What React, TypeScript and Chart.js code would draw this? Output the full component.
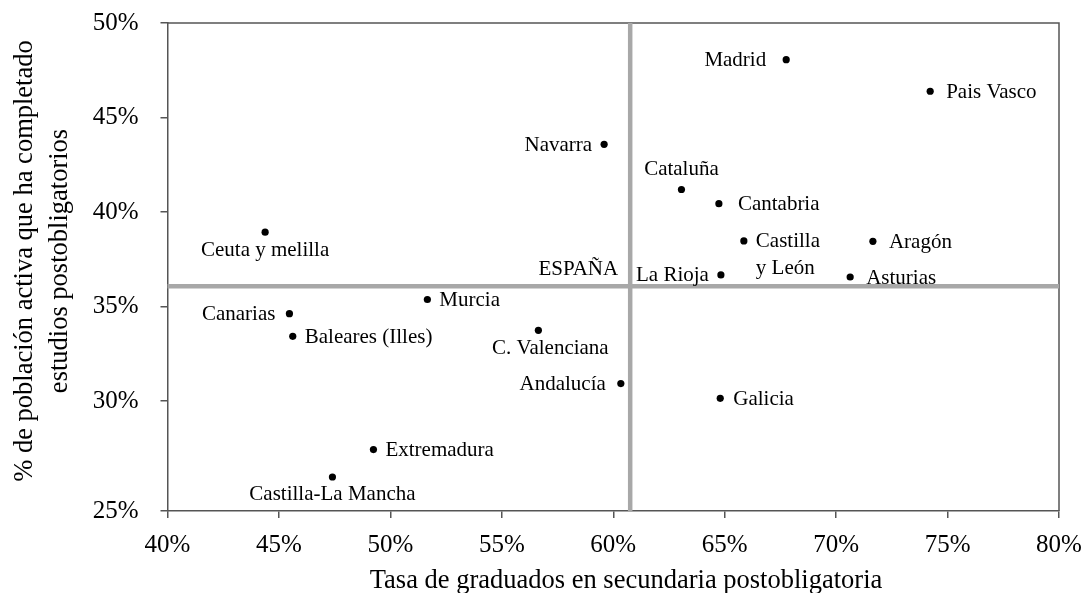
import React, { useEffect, useRef } from 'react';
import { Chart, registerables } from 'chart.js';

Chart.register(...registerables);

// ---- Data ----
const regions = [
  'Madrid', 'Pais Vasco', 'Navarra', 'Cataluña', 'Cantabria', 'Castilla y León',
  'La Rioja', 'Aragón', 'Asturias', 'Ceuta y melilla', 'Canarias', 'Baleares (Illes)',
  'Murcia', 'C. Valenciana', 'Andalucía', 'Galicia', 'Extremadura', 'Castilla-La Mancha',
];
// Tasa de graduados en secundaria postobligatoria (%)
const graduados = [
  67.76, 74.22, 59.59, 63.06, 64.74, 65.86,
  64.83, 71.65, 70.63, 44.38, 45.47, 45.62,
  51.66, 56.64, 60.34, 64.8, 49.24, 47.4,
];
// % de población activa que ha completado estudios postobligatorios
const poblacion = [
  48.06, 46.39, 43.58, 41.19, 40.44, 38.47,
  36.67, 38.45, 36.56, 38.93, 34.62, 33.42,
  35.37, 33.74, 30.92, 30.14, 27.43, 25.98,
];
const espanaLabel = 'ESPAÑA';
const espanaX = 60.76;
const espanaY = 36.07;

const xTickValues = [40, 45, 50, 55, 60, 65, 70, 75, 80];
const xTickLabels = ['40%', '45%', '50%', '55%', '60%', '65%', '70%', '75%', '80%'];
const yTickValues = [24.18, 30, 35, 40, 45, 50];
const yTickLabels = ['25%', '30%', '35%', '40%', '45%', '50%'];

const xTitle = 'Tasa de graduados en secundaria postobligatoria';
const yTitleLines = ['% de población activa que ha completado', 'estudios postobligatorios'];

// ---- Label placement (style) ----
type Place = { pos: 'left' | 'right' | 'above' | 'below'; gap?: number; dx?: number; lines?: string[] };
const placement: Record<string, Place> = {
  'Madrid': { pos: 'left', gap: 20 },
  'Pais Vasco': { pos: 'right', gap: 16 },
  'Navarra': { pos: 'left', gap: 12 },
  'Cataluña': { pos: 'above' },
  'Cantabria': { pos: 'right', gap: 19 },
  'Castilla y León': { pos: 'right', gap: 12, lines: ['Castilla', 'y León'] },
  'La Rioja': { pos: 'left', gap: 12 },
  'Aragón': { pos: 'right', gap: 16 },
  'Asturias': { pos: 'right', gap: 16 },
  'Ceuta y melilla': { pos: 'below' },
  'Canarias': { pos: 'left', gap: 14 },
  'Baleares (Illes)': { pos: 'right', gap: 12 },
  'Murcia': { pos: 'right', gap: 12 },
  'C. Valenciana': { pos: 'below', dx: 12 },
  'Andalucía': { pos: 'left', gap: 15 },
  'Galicia': { pos: 'right', gap: 13 },
  'Extremadura': { pos: 'right', gap: 12 },
  'Castilla-La Mancha': { pos: 'below' },
};

const FONT = "'Liberation Serif', 'Times New Roman', serif";
const AXIS_COLOR = '#555555';

const zeroPadding = (s: any) => {
  s.paddingTop = 0;
  s.paddingBottom = 0;
  s.paddingLeft = 0;
  s.paddingRight = 0;
};

const overlayPlugin = {
  id: 'overlay',
  beforeDatasetsDraw(chart: any) {
    const { ctx, chartArea: a, scales } = chart;
    const xs = scales.x, ys = scales.y;
    ctx.save();
    // frame (top & right)
    ctx.strokeStyle = AXIS_COLOR;
    ctx.lineWidth = 1.5;
    ctx.beginPath();
    ctx.moveTo(a.left, a.top);
    ctx.lineTo(a.right, a.top);
    ctx.lineTo(a.right, a.bottom);
    ctx.stroke();
    // reference lines (España)
    const ex = xs.getPixelForValue(espanaX);
    const ey = ys.getPixelForValue(espanaY);
    ctx.strokeStyle = '#A8A8A8';
    ctx.lineWidth = 4.5;
    ctx.beginPath();
    ctx.moveTo(ex, a.top);
    ctx.lineTo(ex, a.bottom);
    ctx.moveTo(a.left, ey);
    ctx.lineTo(a.right, ey);
    ctx.stroke();
    ctx.restore();
  },
  afterDatasetsDraw(chart: any) {
    const { ctx, scales } = chart;
    const xs = scales.x, ys = scales.y;
    ctx.save();
    ctx.fillStyle = '#000';
    ctx.font = `21px ${FONT}`;
    ctx.textBaseline = 'middle';
    regions.forEach((name, i) => {
      const px = xs.getPixelForValue(graduados[i]);
      const py = ys.getPixelForValue(poblacion[i]);
      const p = placement[name] || { pos: 'right' };
      const gap = p.gap ?? 12;
      const lines = p.lines || [name];
      if (p.pos === 'left') {
        ctx.textAlign = 'right';
        lines.forEach((l, k) => ctx.fillText(l, px - gap, py + 1 + k * 27));
      } else if (p.pos === 'right') {
        ctx.textAlign = 'left';
        lines.forEach((l, k) => ctx.fillText(l, px + gap, py + 1 + k * 27));
      } else if (p.pos === 'above') {
        ctx.textAlign = 'center';
        ctx.fillText(lines[0], px + (p.dx || 0), py - 20);
      } else {
        ctx.textAlign = 'center';
        ctx.fillText(lines[0], px + (p.dx || 0), py + 18);
      }
    });
    // España label
    const ex = xs.getPixelForValue(espanaX);
    const ey = ys.getPixelForValue(espanaY);
    ctx.textAlign = 'right';
    ctx.fillText(espanaLabel, ex - 12, ey - 17);
    ctx.restore();
  },
  afterDraw(chart: any) {
    const { ctx, chartArea: a } = chart;
    ctx.save();
    ctx.fillStyle = '#000';
    ctx.font = `26.5px ${FONT}`;
    ctx.textAlign = 'center';
    ctx.textBaseline = 'alphabetic';
    ctx.fillText(xTitle, 626, 588);
    const cy = (a.top + a.bottom) / 2 - 6;
    yTitleLines.forEach((l, k) => {
      ctx.save();
      ctx.translate(32 + k * 35, cy);
      ctx.rotate(-Math.PI / 2);
      ctx.fillText(l, 0, 0);
      ctx.restore();
    });
    ctx.restore();
  },
};

export default function App() {
  const ref = useRef<HTMLCanvasElement>(null);
  useEffect(() => {
    if (!ref.current) return;
    const chart = new Chart(ref.current, {
      type: 'scatter',
      data: {
        datasets: [
          {
            data: graduados.map((x, i) => ({ x, y: poblacion[i] })),
            pointRadius: 3.6,
            pointHoverRadius: 3.6,
            backgroundColor: '#000',
            borderWidth: 0,
          },
        ],
      },
      options: {
        animation: false,
        responsive: false,
        devicePixelRatio: 1,
        layout: { padding: { top: 23, right: 28, left: 0, bottom: 0 } },
        plugins: { legend: { display: false }, tooltip: { enabled: false } },
        scales: {
          x: {
            type: 'linear',
            min: 40,
            max: 80,
            afterBuildTicks: (s: any) => { s.ticks = xTickValues.map((v) => ({ value: v })); },
            afterFit: (s: any) => { s.height = 82; zeroPadding(s); },
            ticks: {
              callback: (_v: any, i: number) => xTickLabels[i],
              font: { family: FONT, size: 25 },
              color: '#000',
              padding: 12,
              maxRotation: 0,
              autoSkip: false,
            },
            grid: { drawOnChartArea: false, drawTicks: true, tickLength: 7, color: AXIS_COLOR, lineWidth: 1.5 },
            border: { display: true, color: AXIS_COLOR, width: 1.5 },
          },
          y: {
            type: 'linear',
            min: 24.18,
            max: 50,
            afterBuildTicks: (s: any) => { s.ticks = yTickValues.map((v) => ({ value: v })); },
            afterFit: (s: any) => { s.width = 167.5; zeroPadding(s); },
            ticks: {
              callback: (_v: any, i: number) => yTickLabels[i],
              font: { family: FONT, size: 25 },
              color: '#000',
              padding: 22,
              autoSkip: false,
            },
            grid: { drawOnChartArea: false, drawTicks: true, tickLength: 7, color: AXIS_COLOR, lineWidth: 1.5 },
            border: { display: true, color: AXIS_COLOR, width: 1.5 },
          },
        },
      },
      plugins: [overlayPlugin],
    });
    return () => chart.destroy();
  }, []);
  return (
    <div style={{ position: 'fixed', left: 0, top: 0, width: 1087, height: 593, background: '#fff' }}>
      <canvas ref={ref} width={1087} height={593} style={{ display: 'block' }} />
    </div>
  );
}
